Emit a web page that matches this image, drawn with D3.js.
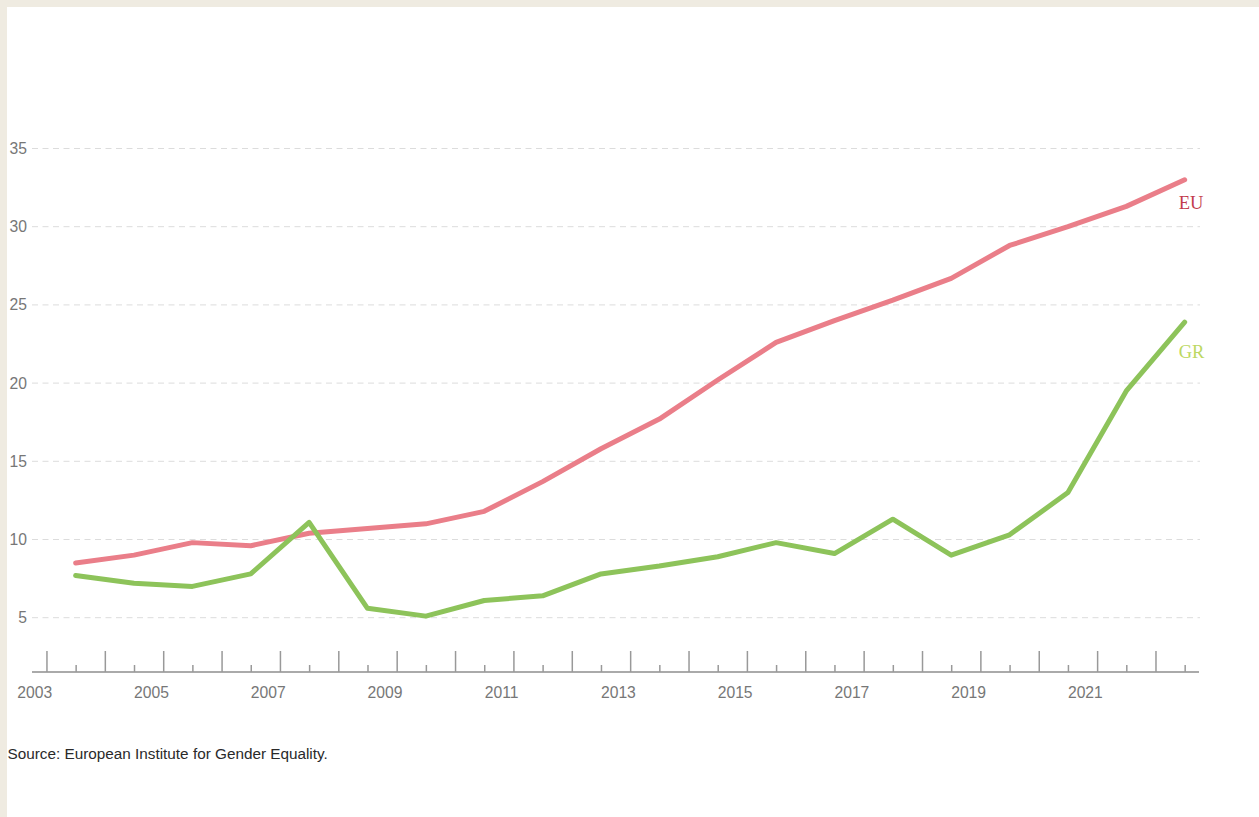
<!DOCTYPE html>
<html>
<head>
<meta charset="utf-8">
<script src="https://cdn.jsdelivr.net/npm/d3@7"></script>
<style>
  html, body { margin: 0; padding: 0; background: #fff; }
  svg { display: block; }
</style>
</head>
<body>
<svg id="chart" width="1259" height="817"></svg>
<script>
// ---- data ----
const years = [2003,2004,2005,2006,2007,2008,2009,2010,2011,2012,2013,2014,2015,2016,2017,2018,2019,2020,2021,2022];
const euValues = [8.5,9.0,9.8,9.6,10.4,10.7,11.0,11.8,13.7,15.8,17.7,20.2,22.6,24.0,25.3,26.7,28.8,30.0,31.3,33.0];
const grValues = [7.7,7.2,7.0,7.8,11.1,5.6,5.1,6.1,6.4,7.8,8.3,8.9,9.8,9.1,11.3,9.0,10.3,13.0,19.5,23.9];
const yTicks = [5,10,15,20,25,30,35];
const xLabelYears = [2003,2005,2007,2009,2011,2013,2015,2017,2019,2021];
const seriesNames = ["EU","GR"];
const sourceText = "Source: European Institute for Gender Equality.";

// ---- layout ----
const svg = d3.select("#chart");
const W = 1259, H = 817;
const axisY = 672, plotLeft = 32, plotRight = 1200;
const pointOffset = 0.71;   // data observed late in the year
const majorOffset = 0.21;

svg.append("rect").attr("width", W).attr("height", H).attr("fill", "#fff");
svg.append("rect").attr("x", 0).attr("y", 0).attr("width", W).attr("height", 7).attr("fill", "#efebe1");
svg.append("rect").attr("x", 0).attr("y", 0).attr("width", 7).attr("height", H).attr("fill", "#efebe1");

const x = d3.scaleLinear().domain([2003, 2023]).range([34.2, 34.2 + 20 * 58.37]);
const y = d3.scaleLinear().domain([5, 35]).range([617.7, 148.5]);

// gridlines
svg.append("g").selectAll("line").data(yTicks).join("line")
  .attr("x1", plotLeft).attr("x2", plotRight)
  .attr("y1", d => y(d)).attr("y2", d => y(d))
  .attr("stroke", "#dcdcdc").attr("stroke-width", 1)
  .attr("stroke-dasharray", "6,4.5");

// y labels
svg.append("g").selectAll("text").data(yTicks).join("text")
  .attr("x", 27).attr("y", d => y(d))
  .attr("text-anchor", "end").attr("dominant-baseline", "central")
  .attr("font-family", "'Liberation Sans', Arial, sans-serif")
  .attr("font-size", 15.7).attr("fill", "#777")
  .text(d => d);

// x axis
const gAxis = svg.append("g").attr("transform", `translate(0,${axisY})`);
gAxis.append("line").attr("x1", plotLeft).attr("x2", 1199)
  .attr("stroke", "#aaa").attr("stroke-width", 2);

const majorAxis = d3.axisTop(x).tickValues(years.map(v => v + majorOffset)).tickSize(21).tickFormat("");
const minorAxis = d3.axisTop(x).tickValues(years.map(v => v + pointOffset)).tickSize(7).tickFormat("");
const labelAxis = d3.axisBottom(x).tickValues(xLabelYears).tickSize(0).tickPadding(15).tickFormat(d3.format("d"));

const gMaj = gAxis.append("g").call(majorAxis);
const gMin = gAxis.append("g").call(minorAxis);
const gLab = gAxis.append("g").call(labelAxis);
[gMaj, gMin, gLab].forEach(g => g.select(".domain").remove());
gMaj.selectAll("line").attr("stroke", "#999").attr("stroke-width", 1.5);
gMin.selectAll("line").attr("stroke", "#999").attr("stroke-width", 1.5);
gLab.selectAll("text")
  .attr("font-family", "'Liberation Sans', Arial, sans-serif")
  .attr("font-size", 15.7).attr("fill", "#777");

// lines
const series = [
  { name: seriesNames[0], values: euValues, color: "#ea7e89", labelColor: "#c23b4c" },
  { name: seriesNames[1], values: grValues, color: "#8dc35a", labelColor: "#bcd862" }
];
const line = d3.line()
  .x((d, i) => x(years[i] + pointOffset))
  .y(d => y(d));

series.forEach(s => {
  svg.append("path").datum(s.values)
    .attr("d", line)
    .attr("fill", "none")
    .attr("stroke", s.color)
    .attr("stroke-width", 5)
    .attr("stroke-linejoin", "round")
    .attr("stroke-linecap", "round");
});

// series labels
const labelDy = [29, 36];
series.forEach((s, i) => {
  const last = s.values[s.values.length - 1];
  svg.append("text")
    .attr("x", x(years[years.length - 1] + pointOffset) - 6)
    .attr("y", y(last) + labelDy[i])
    .attr("font-family", "'Liberation Serif', 'Times New Roman', serif")
    .attr("font-size", 18.5)
    .attr("fill", s.labelColor)
    .text(s.name);
});

// source
svg.append("text")
  .attr("x", 7.5).attr("y", 759)
  .attr("font-family", "'Liberation Sans', Arial, sans-serif")
  .attr("font-size", 15.3).attr("fill", "#2a2a2a")
  .text(sourceText);
</script>
</body>
</html>
